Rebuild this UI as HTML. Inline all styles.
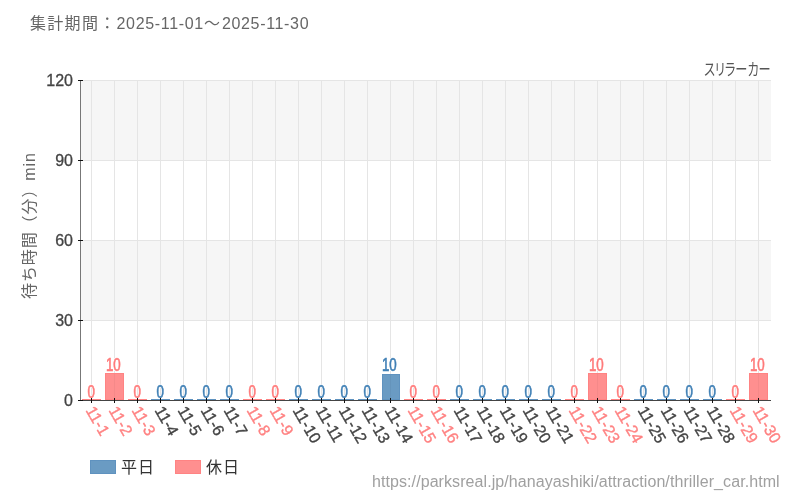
<!DOCTYPE html>
<html><head><meta charset="utf-8"><style>
html,body{margin:0;padding:0;background:#fff;width:800px;height:500px;overflow:hidden;position:relative}
.t{position:absolute;white-space:nowrap;font-family:"Liberation Sans", "Noto Sans CJK JP", sans-serif;line-height:1}
</style></head><body>
<svg width="800" height="500" viewBox="0 0 800 500" style="position:absolute;left:0;top:0">
<rect x="81" y="81" width="690" height="79" fill="#f6f6f6"/>
<rect x="81" y="241" width="690" height="79" fill="#f6f6f6"/>
<line x1="81" y1="80.5" x2="771" y2="80.5" stroke="#e5e5e5" stroke-width="1"/>
<line x1="81" y1="160.5" x2="771" y2="160.5" stroke="#e5e5e5" stroke-width="1"/>
<line x1="81" y1="240.5" x2="771" y2="240.5" stroke="#e5e5e5" stroke-width="1"/>
<line x1="81" y1="320.5" x2="771" y2="320.5" stroke="#e5e5e5" stroke-width="1"/>
<line x1="91.5" y1="81" x2="91.5" y2="400" stroke="#e5e5e5" stroke-width="1"/>
<line x1="114.5" y1="81" x2="114.5" y2="400" stroke="#e5e5e5" stroke-width="1"/>
<line x1="137.5" y1="81" x2="137.5" y2="400" stroke="#e5e5e5" stroke-width="1"/>
<line x1="160.5" y1="81" x2="160.5" y2="400" stroke="#e5e5e5" stroke-width="1"/>
<line x1="183.5" y1="81" x2="183.5" y2="400" stroke="#e5e5e5" stroke-width="1"/>
<line x1="206.5" y1="81" x2="206.5" y2="400" stroke="#e5e5e5" stroke-width="1"/>
<line x1="229.5" y1="81" x2="229.5" y2="400" stroke="#e5e5e5" stroke-width="1"/>
<line x1="252.5" y1="81" x2="252.5" y2="400" stroke="#e5e5e5" stroke-width="1"/>
<line x1="275.5" y1="81" x2="275.5" y2="400" stroke="#e5e5e5" stroke-width="1"/>
<line x1="298.5" y1="81" x2="298.5" y2="400" stroke="#e5e5e5" stroke-width="1"/>
<line x1="321.5" y1="81" x2="321.5" y2="400" stroke="#e5e5e5" stroke-width="1"/>
<line x1="344.5" y1="81" x2="344.5" y2="400" stroke="#e5e5e5" stroke-width="1"/>
<line x1="367.5" y1="81" x2="367.5" y2="400" stroke="#e5e5e5" stroke-width="1"/>
<line x1="390.5" y1="81" x2="390.5" y2="400" stroke="#e5e5e5" stroke-width="1"/>
<line x1="413.5" y1="81" x2="413.5" y2="400" stroke="#e5e5e5" stroke-width="1"/>
<line x1="436.5" y1="81" x2="436.5" y2="400" stroke="#e5e5e5" stroke-width="1"/>
<line x1="459.5" y1="81" x2="459.5" y2="400" stroke="#e5e5e5" stroke-width="1"/>
<line x1="482.5" y1="81" x2="482.5" y2="400" stroke="#e5e5e5" stroke-width="1"/>
<line x1="505.5" y1="81" x2="505.5" y2="400" stroke="#e5e5e5" stroke-width="1"/>
<line x1="528.5" y1="81" x2="528.5" y2="400" stroke="#e5e5e5" stroke-width="1"/>
<line x1="551.5" y1="81" x2="551.5" y2="400" stroke="#e5e5e5" stroke-width="1"/>
<line x1="574.5" y1="81" x2="574.5" y2="400" stroke="#e5e5e5" stroke-width="1"/>
<line x1="597.5" y1="81" x2="597.5" y2="400" stroke="#e5e5e5" stroke-width="1"/>
<line x1="620.5" y1="81" x2="620.5" y2="400" stroke="#e5e5e5" stroke-width="1"/>
<line x1="643.5" y1="81" x2="643.5" y2="400" stroke="#e5e5e5" stroke-width="1"/>
<line x1="666.5" y1="81" x2="666.5" y2="400" stroke="#e5e5e5" stroke-width="1"/>
<line x1="689.5" y1="81" x2="689.5" y2="400" stroke="#e5e5e5" stroke-width="1"/>
<line x1="712.5" y1="81" x2="712.5" y2="400" stroke="#e5e5e5" stroke-width="1"/>
<line x1="735.5" y1="81" x2="735.5" y2="400" stroke="#e5e5e5" stroke-width="1"/>
<line x1="758.5" y1="81" x2="758.5" y2="400" stroke="#e5e5e5" stroke-width="1"/>
<rect x="82" y="399" width="19" height="1" fill="#ff8383"/>
<rect x="105" y="373" width="19" height="27" fill="#ff8f8f"/>
<line x1="114.5" y1="373" x2="114.5" y2="400" stroke="#000" stroke-opacity="0.04"/>
<rect x="105.5" y="373.5" width="18" height="26" fill="none" stroke="#ff8383" stroke-width="1"/>
<rect x="128" y="399" width="19" height="1" fill="#ff8383"/>
<rect x="151" y="399" width="19" height="1" fill="#5f92bf"/>
<rect x="174" y="399" width="19" height="1" fill="#5f92bf"/>
<rect x="197" y="399" width="19" height="1" fill="#5f92bf"/>
<rect x="220" y="399" width="19" height="1" fill="#5f92bf"/>
<rect x="243" y="399" width="19" height="1" fill="#ff8383"/>
<rect x="266" y="399" width="19" height="1" fill="#ff8383"/>
<rect x="289" y="399" width="19" height="1" fill="#5f92bf"/>
<rect x="312" y="399" width="19" height="1" fill="#5f92bf"/>
<rect x="335" y="399" width="19" height="1" fill="#5f92bf"/>
<rect x="358" y="399" width="19" height="1" fill="#5f92bf"/>
<rect x="382" y="374" width="18" height="26" fill="#6a9bc3"/>
<line x1="390.5" y1="374" x2="390.5" y2="400" stroke="#000" stroke-opacity="0.04"/>
<rect x="382.5" y="374.5" width="17" height="25" fill="none" stroke="#5f92bf" stroke-width="1"/>
<rect x="404" y="399" width="19" height="1" fill="#ff8383"/>
<rect x="427" y="399" width="19" height="1" fill="#ff8383"/>
<rect x="450" y="399" width="19" height="1" fill="#5f92bf"/>
<rect x="473" y="399" width="19" height="1" fill="#5f92bf"/>
<rect x="496" y="399" width="19" height="1" fill="#5f92bf"/>
<rect x="519" y="399" width="19" height="1" fill="#5f92bf"/>
<rect x="542" y="399" width="19" height="1" fill="#5f92bf"/>
<rect x="565" y="399" width="19" height="1" fill="#ff8383"/>
<rect x="588" y="373" width="19" height="27" fill="#ff8f8f"/>
<line x1="597.5" y1="373" x2="597.5" y2="400" stroke="#000" stroke-opacity="0.04"/>
<rect x="588.5" y="373.5" width="18" height="26" fill="none" stroke="#ff8383" stroke-width="1"/>
<rect x="611" y="399" width="19" height="1" fill="#ff8383"/>
<rect x="634" y="399" width="19" height="1" fill="#5f92bf"/>
<rect x="657" y="399" width="19" height="1" fill="#5f92bf"/>
<rect x="680" y="399" width="19" height="1" fill="#5f92bf"/>
<rect x="703" y="399" width="19" height="1" fill="#5f92bf"/>
<rect x="726" y="399" width="19" height="1" fill="#ff8383"/>
<rect x="749" y="373" width="19" height="27" fill="#ff8f8f"/>
<line x1="758.5" y1="373" x2="758.5" y2="400" stroke="#000" stroke-opacity="0.04"/>
<rect x="749.5" y="373.5" width="18" height="26" fill="none" stroke="#ff8383" stroke-width="1"/>
<line x1="80.5" y1="80" x2="80.5" y2="400" stroke="#777" stroke-width="1"/>
<line x1="80" y1="400.5" x2="771" y2="400.5" stroke="#444" stroke-width="1"/>
<text x="73" y="85.8" text-anchor="end" font-family='"Liberation Sans", "Noto Sans CJK JP", sans-serif' font-size="16" fill="#444" stroke="#444" stroke-width="0.3">120</text>
<text x="73" y="165.8" text-anchor="end" font-family='"Liberation Sans", "Noto Sans CJK JP", sans-serif' font-size="16" fill="#444" stroke="#444" stroke-width="0.3">90</text>
<text x="73" y="245.8" text-anchor="end" font-family='"Liberation Sans", "Noto Sans CJK JP", sans-serif' font-size="16" fill="#444" stroke="#444" stroke-width="0.3">60</text>
<text x="73" y="325.8" text-anchor="end" font-family='"Liberation Sans", "Noto Sans CJK JP", sans-serif' font-size="16" fill="#444" stroke="#444" stroke-width="0.3">30</text>
<text x="73" y="405.8" text-anchor="end" font-family='"Liberation Sans", "Noto Sans CJK JP", sans-serif' font-size="16" fill="#444" stroke="#444" stroke-width="0.3">0</text>
<text transform="translate(91.10,398.10) scale(0.72,1)" text-anchor="middle" font-family='"Liberation Sans", "Noto Sans CJK JP", sans-serif' font-size="18.5" fill="#ff7a7a" stroke="#fff" stroke-width="2" stroke-linejoin="round">0</text>
<text transform="translate(91.10,398.10) scale(0.72,1)" text-anchor="middle" font-family='"Liberation Sans", "Noto Sans CJK JP", sans-serif' font-size="18.5" fill="#ff7a7a" stroke="#ff7a7a" stroke-width="0.65">0</text>
<text transform="translate(113.30,370.83) scale(0.72,1)" text-anchor="middle" font-family='"Liberation Sans", "Noto Sans CJK JP", sans-serif' font-size="18.5" fill="#ff7a7a" stroke="#fff" stroke-width="2" stroke-linejoin="round">10</text>
<text transform="translate(113.30,370.83) scale(0.72,1)" text-anchor="middle" font-family='"Liberation Sans", "Noto Sans CJK JP", sans-serif' font-size="18.5" fill="#ff7a7a" stroke="#ff7a7a" stroke-width="0.65">10</text>
<text transform="translate(137.10,398.10) scale(0.72,1)" text-anchor="middle" font-family='"Liberation Sans", "Noto Sans CJK JP", sans-serif' font-size="18.5" fill="#ff7a7a" stroke="#fff" stroke-width="2" stroke-linejoin="round">0</text>
<text transform="translate(137.10,398.10) scale(0.72,1)" text-anchor="middle" font-family='"Liberation Sans", "Noto Sans CJK JP", sans-serif' font-size="18.5" fill="#ff7a7a" stroke="#ff7a7a" stroke-width="0.65">0</text>
<text transform="translate(160.10,398.10) scale(0.72,1)" text-anchor="middle" font-family='"Liberation Sans", "Noto Sans CJK JP", sans-serif' font-size="18.5" fill="#3f7fb5" stroke="#fff" stroke-width="2" stroke-linejoin="round">0</text>
<text transform="translate(160.10,398.10) scale(0.72,1)" text-anchor="middle" font-family='"Liberation Sans", "Noto Sans CJK JP", sans-serif' font-size="18.5" fill="#3f7fb5" stroke="#3f7fb5" stroke-width="0.65">0</text>
<text transform="translate(183.10,398.10) scale(0.72,1)" text-anchor="middle" font-family='"Liberation Sans", "Noto Sans CJK JP", sans-serif' font-size="18.5" fill="#3f7fb5" stroke="#fff" stroke-width="2" stroke-linejoin="round">0</text>
<text transform="translate(183.10,398.10) scale(0.72,1)" text-anchor="middle" font-family='"Liberation Sans", "Noto Sans CJK JP", sans-serif' font-size="18.5" fill="#3f7fb5" stroke="#3f7fb5" stroke-width="0.65">0</text>
<text transform="translate(206.10,398.10) scale(0.72,1)" text-anchor="middle" font-family='"Liberation Sans", "Noto Sans CJK JP", sans-serif' font-size="18.5" fill="#3f7fb5" stroke="#fff" stroke-width="2" stroke-linejoin="round">0</text>
<text transform="translate(206.10,398.10) scale(0.72,1)" text-anchor="middle" font-family='"Liberation Sans", "Noto Sans CJK JP", sans-serif' font-size="18.5" fill="#3f7fb5" stroke="#3f7fb5" stroke-width="0.65">0</text>
<text transform="translate(229.10,398.10) scale(0.72,1)" text-anchor="middle" font-family='"Liberation Sans", "Noto Sans CJK JP", sans-serif' font-size="18.5" fill="#3f7fb5" stroke="#fff" stroke-width="2" stroke-linejoin="round">0</text>
<text transform="translate(229.10,398.10) scale(0.72,1)" text-anchor="middle" font-family='"Liberation Sans", "Noto Sans CJK JP", sans-serif' font-size="18.5" fill="#3f7fb5" stroke="#3f7fb5" stroke-width="0.65">0</text>
<text transform="translate(252.10,398.10) scale(0.72,1)" text-anchor="middle" font-family='"Liberation Sans", "Noto Sans CJK JP", sans-serif' font-size="18.5" fill="#ff7a7a" stroke="#fff" stroke-width="2" stroke-linejoin="round">0</text>
<text transform="translate(252.10,398.10) scale(0.72,1)" text-anchor="middle" font-family='"Liberation Sans", "Noto Sans CJK JP", sans-serif' font-size="18.5" fill="#ff7a7a" stroke="#ff7a7a" stroke-width="0.65">0</text>
<text transform="translate(275.10,398.10) scale(0.72,1)" text-anchor="middle" font-family='"Liberation Sans", "Noto Sans CJK JP", sans-serif' font-size="18.5" fill="#ff7a7a" stroke="#fff" stroke-width="2" stroke-linejoin="round">0</text>
<text transform="translate(275.10,398.10) scale(0.72,1)" text-anchor="middle" font-family='"Liberation Sans", "Noto Sans CJK JP", sans-serif' font-size="18.5" fill="#ff7a7a" stroke="#ff7a7a" stroke-width="0.65">0</text>
<text transform="translate(298.10,398.10) scale(0.72,1)" text-anchor="middle" font-family='"Liberation Sans", "Noto Sans CJK JP", sans-serif' font-size="18.5" fill="#3f7fb5" stroke="#fff" stroke-width="2" stroke-linejoin="round">0</text>
<text transform="translate(298.10,398.10) scale(0.72,1)" text-anchor="middle" font-family='"Liberation Sans", "Noto Sans CJK JP", sans-serif' font-size="18.5" fill="#3f7fb5" stroke="#3f7fb5" stroke-width="0.65">0</text>
<text transform="translate(321.10,398.10) scale(0.72,1)" text-anchor="middle" font-family='"Liberation Sans", "Noto Sans CJK JP", sans-serif' font-size="18.5" fill="#3f7fb5" stroke="#fff" stroke-width="2" stroke-linejoin="round">0</text>
<text transform="translate(321.10,398.10) scale(0.72,1)" text-anchor="middle" font-family='"Liberation Sans", "Noto Sans CJK JP", sans-serif' font-size="18.5" fill="#3f7fb5" stroke="#3f7fb5" stroke-width="0.65">0</text>
<text transform="translate(344.10,398.10) scale(0.72,1)" text-anchor="middle" font-family='"Liberation Sans", "Noto Sans CJK JP", sans-serif' font-size="18.5" fill="#3f7fb5" stroke="#fff" stroke-width="2" stroke-linejoin="round">0</text>
<text transform="translate(344.10,398.10) scale(0.72,1)" text-anchor="middle" font-family='"Liberation Sans", "Noto Sans CJK JP", sans-serif' font-size="18.5" fill="#3f7fb5" stroke="#3f7fb5" stroke-width="0.65">0</text>
<text transform="translate(367.10,398.10) scale(0.72,1)" text-anchor="middle" font-family='"Liberation Sans", "Noto Sans CJK JP", sans-serif' font-size="18.5" fill="#3f7fb5" stroke="#fff" stroke-width="2" stroke-linejoin="round">0</text>
<text transform="translate(367.10,398.10) scale(0.72,1)" text-anchor="middle" font-family='"Liberation Sans", "Noto Sans CJK JP", sans-serif' font-size="18.5" fill="#3f7fb5" stroke="#3f7fb5" stroke-width="0.65">0</text>
<text transform="translate(389.30,370.83) scale(0.72,1)" text-anchor="middle" font-family='"Liberation Sans", "Noto Sans CJK JP", sans-serif' font-size="18.5" fill="#3f7fb5" stroke="#fff" stroke-width="2" stroke-linejoin="round">10</text>
<text transform="translate(389.30,370.83) scale(0.72,1)" text-anchor="middle" font-family='"Liberation Sans", "Noto Sans CJK JP", sans-serif' font-size="18.5" fill="#3f7fb5" stroke="#3f7fb5" stroke-width="0.65">10</text>
<text transform="translate(413.10,398.10) scale(0.72,1)" text-anchor="middle" font-family='"Liberation Sans", "Noto Sans CJK JP", sans-serif' font-size="18.5" fill="#ff7a7a" stroke="#fff" stroke-width="2" stroke-linejoin="round">0</text>
<text transform="translate(413.10,398.10) scale(0.72,1)" text-anchor="middle" font-family='"Liberation Sans", "Noto Sans CJK JP", sans-serif' font-size="18.5" fill="#ff7a7a" stroke="#ff7a7a" stroke-width="0.65">0</text>
<text transform="translate(436.10,398.10) scale(0.72,1)" text-anchor="middle" font-family='"Liberation Sans", "Noto Sans CJK JP", sans-serif' font-size="18.5" fill="#ff7a7a" stroke="#fff" stroke-width="2" stroke-linejoin="round">0</text>
<text transform="translate(436.10,398.10) scale(0.72,1)" text-anchor="middle" font-family='"Liberation Sans", "Noto Sans CJK JP", sans-serif' font-size="18.5" fill="#ff7a7a" stroke="#ff7a7a" stroke-width="0.65">0</text>
<text transform="translate(459.10,398.10) scale(0.72,1)" text-anchor="middle" font-family='"Liberation Sans", "Noto Sans CJK JP", sans-serif' font-size="18.5" fill="#3f7fb5" stroke="#fff" stroke-width="2" stroke-linejoin="round">0</text>
<text transform="translate(459.10,398.10) scale(0.72,1)" text-anchor="middle" font-family='"Liberation Sans", "Noto Sans CJK JP", sans-serif' font-size="18.5" fill="#3f7fb5" stroke="#3f7fb5" stroke-width="0.65">0</text>
<text transform="translate(482.10,398.10) scale(0.72,1)" text-anchor="middle" font-family='"Liberation Sans", "Noto Sans CJK JP", sans-serif' font-size="18.5" fill="#3f7fb5" stroke="#fff" stroke-width="2" stroke-linejoin="round">0</text>
<text transform="translate(482.10,398.10) scale(0.72,1)" text-anchor="middle" font-family='"Liberation Sans", "Noto Sans CJK JP", sans-serif' font-size="18.5" fill="#3f7fb5" stroke="#3f7fb5" stroke-width="0.65">0</text>
<text transform="translate(505.10,398.10) scale(0.72,1)" text-anchor="middle" font-family='"Liberation Sans", "Noto Sans CJK JP", sans-serif' font-size="18.5" fill="#3f7fb5" stroke="#fff" stroke-width="2" stroke-linejoin="round">0</text>
<text transform="translate(505.10,398.10) scale(0.72,1)" text-anchor="middle" font-family='"Liberation Sans", "Noto Sans CJK JP", sans-serif' font-size="18.5" fill="#3f7fb5" stroke="#3f7fb5" stroke-width="0.65">0</text>
<text transform="translate(528.10,398.10) scale(0.72,1)" text-anchor="middle" font-family='"Liberation Sans", "Noto Sans CJK JP", sans-serif' font-size="18.5" fill="#3f7fb5" stroke="#fff" stroke-width="2" stroke-linejoin="round">0</text>
<text transform="translate(528.10,398.10) scale(0.72,1)" text-anchor="middle" font-family='"Liberation Sans", "Noto Sans CJK JP", sans-serif' font-size="18.5" fill="#3f7fb5" stroke="#3f7fb5" stroke-width="0.65">0</text>
<text transform="translate(551.10,398.10) scale(0.72,1)" text-anchor="middle" font-family='"Liberation Sans", "Noto Sans CJK JP", sans-serif' font-size="18.5" fill="#3f7fb5" stroke="#fff" stroke-width="2" stroke-linejoin="round">0</text>
<text transform="translate(551.10,398.10) scale(0.72,1)" text-anchor="middle" font-family='"Liberation Sans", "Noto Sans CJK JP", sans-serif' font-size="18.5" fill="#3f7fb5" stroke="#3f7fb5" stroke-width="0.65">0</text>
<text transform="translate(574.10,398.10) scale(0.72,1)" text-anchor="middle" font-family='"Liberation Sans", "Noto Sans CJK JP", sans-serif' font-size="18.5" fill="#ff7a7a" stroke="#fff" stroke-width="2" stroke-linejoin="round">0</text>
<text transform="translate(574.10,398.10) scale(0.72,1)" text-anchor="middle" font-family='"Liberation Sans", "Noto Sans CJK JP", sans-serif' font-size="18.5" fill="#ff7a7a" stroke="#ff7a7a" stroke-width="0.65">0</text>
<text transform="translate(596.30,370.83) scale(0.72,1)" text-anchor="middle" font-family='"Liberation Sans", "Noto Sans CJK JP", sans-serif' font-size="18.5" fill="#ff7a7a" stroke="#fff" stroke-width="2" stroke-linejoin="round">10</text>
<text transform="translate(596.30,370.83) scale(0.72,1)" text-anchor="middle" font-family='"Liberation Sans", "Noto Sans CJK JP", sans-serif' font-size="18.5" fill="#ff7a7a" stroke="#ff7a7a" stroke-width="0.65">10</text>
<text transform="translate(620.10,398.10) scale(0.72,1)" text-anchor="middle" font-family='"Liberation Sans", "Noto Sans CJK JP", sans-serif' font-size="18.5" fill="#ff7a7a" stroke="#fff" stroke-width="2" stroke-linejoin="round">0</text>
<text transform="translate(620.10,398.10) scale(0.72,1)" text-anchor="middle" font-family='"Liberation Sans", "Noto Sans CJK JP", sans-serif' font-size="18.5" fill="#ff7a7a" stroke="#ff7a7a" stroke-width="0.65">0</text>
<text transform="translate(643.10,398.10) scale(0.72,1)" text-anchor="middle" font-family='"Liberation Sans", "Noto Sans CJK JP", sans-serif' font-size="18.5" fill="#3f7fb5" stroke="#fff" stroke-width="2" stroke-linejoin="round">0</text>
<text transform="translate(643.10,398.10) scale(0.72,1)" text-anchor="middle" font-family='"Liberation Sans", "Noto Sans CJK JP", sans-serif' font-size="18.5" fill="#3f7fb5" stroke="#3f7fb5" stroke-width="0.65">0</text>
<text transform="translate(666.10,398.10) scale(0.72,1)" text-anchor="middle" font-family='"Liberation Sans", "Noto Sans CJK JP", sans-serif' font-size="18.5" fill="#3f7fb5" stroke="#fff" stroke-width="2" stroke-linejoin="round">0</text>
<text transform="translate(666.10,398.10) scale(0.72,1)" text-anchor="middle" font-family='"Liberation Sans", "Noto Sans CJK JP", sans-serif' font-size="18.5" fill="#3f7fb5" stroke="#3f7fb5" stroke-width="0.65">0</text>
<text transform="translate(689.10,398.10) scale(0.72,1)" text-anchor="middle" font-family='"Liberation Sans", "Noto Sans CJK JP", sans-serif' font-size="18.5" fill="#3f7fb5" stroke="#fff" stroke-width="2" stroke-linejoin="round">0</text>
<text transform="translate(689.10,398.10) scale(0.72,1)" text-anchor="middle" font-family='"Liberation Sans", "Noto Sans CJK JP", sans-serif' font-size="18.5" fill="#3f7fb5" stroke="#3f7fb5" stroke-width="0.65">0</text>
<text transform="translate(712.10,398.10) scale(0.72,1)" text-anchor="middle" font-family='"Liberation Sans", "Noto Sans CJK JP", sans-serif' font-size="18.5" fill="#3f7fb5" stroke="#fff" stroke-width="2" stroke-linejoin="round">0</text>
<text transform="translate(712.10,398.10) scale(0.72,1)" text-anchor="middle" font-family='"Liberation Sans", "Noto Sans CJK JP", sans-serif' font-size="18.5" fill="#3f7fb5" stroke="#3f7fb5" stroke-width="0.65">0</text>
<text transform="translate(735.10,398.10) scale(0.72,1)" text-anchor="middle" font-family='"Liberation Sans", "Noto Sans CJK JP", sans-serif' font-size="18.5" fill="#ff7a7a" stroke="#fff" stroke-width="2" stroke-linejoin="round">0</text>
<text transform="translate(735.10,398.10) scale(0.72,1)" text-anchor="middle" font-family='"Liberation Sans", "Noto Sans CJK JP", sans-serif' font-size="18.5" fill="#ff7a7a" stroke="#ff7a7a" stroke-width="0.65">0</text>
<text transform="translate(757.30,370.83) scale(0.72,1)" text-anchor="middle" font-family='"Liberation Sans", "Noto Sans CJK JP", sans-serif' font-size="18.5" fill="#ff7a7a" stroke="#fff" stroke-width="2" stroke-linejoin="round">10</text>
<text transform="translate(757.30,370.83) scale(0.72,1)" text-anchor="middle" font-family='"Liberation Sans", "Noto Sans CJK JP", sans-serif' font-size="18.5" fill="#ff7a7a" stroke="#ff7a7a" stroke-width="0.65">10</text>
<text transform="translate(90.00,407.4) rotate(60)" dominant-baseline="central" font-family='"Liberation Sans", "Noto Sans CJK JP", sans-serif' font-size="16" fill="#ff8282" stroke="#ff8282" stroke-width="0.35">11-1</text>
<text transform="translate(113.00,407.4) rotate(60)" dominant-baseline="central" font-family='"Liberation Sans", "Noto Sans CJK JP", sans-serif' font-size="16" fill="#ff8282" stroke="#ff8282" stroke-width="0.35">11-2</text>
<text transform="translate(136.00,407.4) rotate(60)" dominant-baseline="central" font-family='"Liberation Sans", "Noto Sans CJK JP", sans-serif' font-size="16" fill="#ff8282" stroke="#ff8282" stroke-width="0.35">11-3</text>
<text transform="translate(159.00,407.4) rotate(60)" dominant-baseline="central" font-family='"Liberation Sans", "Noto Sans CJK JP", sans-serif' font-size="16" fill="#444" stroke="#444" stroke-width="0.35">11-4</text>
<text transform="translate(182.00,407.4) rotate(60)" dominant-baseline="central" font-family='"Liberation Sans", "Noto Sans CJK JP", sans-serif' font-size="16" fill="#444" stroke="#444" stroke-width="0.35">11-5</text>
<text transform="translate(205.00,407.4) rotate(60)" dominant-baseline="central" font-family='"Liberation Sans", "Noto Sans CJK JP", sans-serif' font-size="16" fill="#444" stroke="#444" stroke-width="0.35">11-6</text>
<text transform="translate(228.00,407.4) rotate(60)" dominant-baseline="central" font-family='"Liberation Sans", "Noto Sans CJK JP", sans-serif' font-size="16" fill="#444" stroke="#444" stroke-width="0.35">11-7</text>
<text transform="translate(251.00,407.4) rotate(60)" dominant-baseline="central" font-family='"Liberation Sans", "Noto Sans CJK JP", sans-serif' font-size="16" fill="#ff8282" stroke="#ff8282" stroke-width="0.35">11-8</text>
<text transform="translate(274.00,407.4) rotate(60)" dominant-baseline="central" font-family='"Liberation Sans", "Noto Sans CJK JP", sans-serif' font-size="16" fill="#ff8282" stroke="#ff8282" stroke-width="0.35">11-9</text>
<text transform="translate(297.00,407.4) rotate(60)" dominant-baseline="central" font-family='"Liberation Sans", "Noto Sans CJK JP", sans-serif' font-size="16" fill="#444" stroke="#444" stroke-width="0.35">11-10</text>
<text transform="translate(320.00,407.4) rotate(60)" dominant-baseline="central" font-family='"Liberation Sans", "Noto Sans CJK JP", sans-serif' font-size="16" fill="#444" stroke="#444" stroke-width="0.35">11-11</text>
<text transform="translate(343.00,407.4) rotate(60)" dominant-baseline="central" font-family='"Liberation Sans", "Noto Sans CJK JP", sans-serif' font-size="16" fill="#444" stroke="#444" stroke-width="0.35">11-12</text>
<text transform="translate(366.00,407.4) rotate(60)" dominant-baseline="central" font-family='"Liberation Sans", "Noto Sans CJK JP", sans-serif' font-size="16" fill="#444" stroke="#444" stroke-width="0.35">11-13</text>
<text transform="translate(389.00,407.4) rotate(60)" dominant-baseline="central" font-family='"Liberation Sans", "Noto Sans CJK JP", sans-serif' font-size="16" fill="#444" stroke="#444" stroke-width="0.35">11-14</text>
<text transform="translate(412.00,407.4) rotate(60)" dominant-baseline="central" font-family='"Liberation Sans", "Noto Sans CJK JP", sans-serif' font-size="16" fill="#ff8282" stroke="#ff8282" stroke-width="0.35">11-15</text>
<text transform="translate(435.00,407.4) rotate(60)" dominant-baseline="central" font-family='"Liberation Sans", "Noto Sans CJK JP", sans-serif' font-size="16" fill="#ff8282" stroke="#ff8282" stroke-width="0.35">11-16</text>
<text transform="translate(458.00,407.4) rotate(60)" dominant-baseline="central" font-family='"Liberation Sans", "Noto Sans CJK JP", sans-serif' font-size="16" fill="#444" stroke="#444" stroke-width="0.35">11-17</text>
<text transform="translate(481.00,407.4) rotate(60)" dominant-baseline="central" font-family='"Liberation Sans", "Noto Sans CJK JP", sans-serif' font-size="16" fill="#444" stroke="#444" stroke-width="0.35">11-18</text>
<text transform="translate(504.00,407.4) rotate(60)" dominant-baseline="central" font-family='"Liberation Sans", "Noto Sans CJK JP", sans-serif' font-size="16" fill="#444" stroke="#444" stroke-width="0.35">11-19</text>
<text transform="translate(527.00,407.4) rotate(60)" dominant-baseline="central" font-family='"Liberation Sans", "Noto Sans CJK JP", sans-serif' font-size="16" fill="#444" stroke="#444" stroke-width="0.35">11-20</text>
<text transform="translate(550.00,407.4) rotate(60)" dominant-baseline="central" font-family='"Liberation Sans", "Noto Sans CJK JP", sans-serif' font-size="16" fill="#444" stroke="#444" stroke-width="0.35">11-21</text>
<text transform="translate(573.00,407.4) rotate(60)" dominant-baseline="central" font-family='"Liberation Sans", "Noto Sans CJK JP", sans-serif' font-size="16" fill="#ff8282" stroke="#ff8282" stroke-width="0.35">11-22</text>
<text transform="translate(596.00,407.4) rotate(60)" dominant-baseline="central" font-family='"Liberation Sans", "Noto Sans CJK JP", sans-serif' font-size="16" fill="#ff8282" stroke="#ff8282" stroke-width="0.35">11-23</text>
<text transform="translate(619.00,407.4) rotate(60)" dominant-baseline="central" font-family='"Liberation Sans", "Noto Sans CJK JP", sans-serif' font-size="16" fill="#ff8282" stroke="#ff8282" stroke-width="0.35">11-24</text>
<text transform="translate(642.00,407.4) rotate(60)" dominant-baseline="central" font-family='"Liberation Sans", "Noto Sans CJK JP", sans-serif' font-size="16" fill="#444" stroke="#444" stroke-width="0.35">11-25</text>
<text transform="translate(665.00,407.4) rotate(60)" dominant-baseline="central" font-family='"Liberation Sans", "Noto Sans CJK JP", sans-serif' font-size="16" fill="#444" stroke="#444" stroke-width="0.35">11-26</text>
<text transform="translate(688.00,407.4) rotate(60)" dominant-baseline="central" font-family='"Liberation Sans", "Noto Sans CJK JP", sans-serif' font-size="16" fill="#444" stroke="#444" stroke-width="0.35">11-27</text>
<text transform="translate(711.00,407.4) rotate(60)" dominant-baseline="central" font-family='"Liberation Sans", "Noto Sans CJK JP", sans-serif' font-size="16" fill="#444" stroke="#444" stroke-width="0.35">11-28</text>
<text transform="translate(734.00,407.4) rotate(60)" dominant-baseline="central" font-family='"Liberation Sans", "Noto Sans CJK JP", sans-serif' font-size="16" fill="#ff8282" stroke="#ff8282" stroke-width="0.35">11-29</text>
<text transform="translate(757.00,407.4) rotate(60)" dominant-baseline="central" font-family='"Liberation Sans", "Noto Sans CJK JP", sans-serif' font-size="16" fill="#ff8282" stroke="#ff8282" stroke-width="0.35">11-30</text>
<line x1="78" y1="80.5" x2="83" y2="80.5" stroke="#111" stroke-width="1"/>
<line x1="78" y1="160.5" x2="83" y2="160.5" stroke="#111" stroke-width="1"/>
<line x1="78" y1="240.5" x2="83" y2="240.5" stroke="#111" stroke-width="1"/>
<line x1="78" y1="320.5" x2="83" y2="320.5" stroke="#111" stroke-width="1"/>
<line x1="78" y1="400.5" x2="83" y2="400.5" stroke="#111" stroke-width="1"/>
<line x1="91.5" y1="398" x2="91.5" y2="403" stroke="#111" stroke-width="1"/>
<line x1="114.5" y1="398" x2="114.5" y2="403" stroke="#111" stroke-width="1"/>
<line x1="137.5" y1="398" x2="137.5" y2="403" stroke="#111" stroke-width="1"/>
<line x1="160.5" y1="398" x2="160.5" y2="403" stroke="#111" stroke-width="1"/>
<line x1="183.5" y1="398" x2="183.5" y2="403" stroke="#111" stroke-width="1"/>
<line x1="206.5" y1="398" x2="206.5" y2="403" stroke="#111" stroke-width="1"/>
<line x1="229.5" y1="398" x2="229.5" y2="403" stroke="#111" stroke-width="1"/>
<line x1="252.5" y1="398" x2="252.5" y2="403" stroke="#111" stroke-width="1"/>
<line x1="275.5" y1="398" x2="275.5" y2="403" stroke="#111" stroke-width="1"/>
<line x1="298.5" y1="398" x2="298.5" y2="403" stroke="#111" stroke-width="1"/>
<line x1="321.5" y1="398" x2="321.5" y2="403" stroke="#111" stroke-width="1"/>
<line x1="344.5" y1="398" x2="344.5" y2="403" stroke="#111" stroke-width="1"/>
<line x1="367.5" y1="398" x2="367.5" y2="403" stroke="#111" stroke-width="1"/>
<line x1="390.5" y1="398" x2="390.5" y2="403" stroke="#111" stroke-width="1"/>
<line x1="413.5" y1="398" x2="413.5" y2="403" stroke="#111" stroke-width="1"/>
<line x1="436.5" y1="398" x2="436.5" y2="403" stroke="#111" stroke-width="1"/>
<line x1="459.5" y1="398" x2="459.5" y2="403" stroke="#111" stroke-width="1"/>
<line x1="482.5" y1="398" x2="482.5" y2="403" stroke="#111" stroke-width="1"/>
<line x1="505.5" y1="398" x2="505.5" y2="403" stroke="#111" stroke-width="1"/>
<line x1="528.5" y1="398" x2="528.5" y2="403" stroke="#111" stroke-width="1"/>
<line x1="551.5" y1="398" x2="551.5" y2="403" stroke="#111" stroke-width="1"/>
<line x1="574.5" y1="398" x2="574.5" y2="403" stroke="#111" stroke-width="1"/>
<line x1="597.5" y1="398" x2="597.5" y2="403" stroke="#111" stroke-width="1"/>
<line x1="620.5" y1="398" x2="620.5" y2="403" stroke="#111" stroke-width="1"/>
<line x1="643.5" y1="398" x2="643.5" y2="403" stroke="#111" stroke-width="1"/>
<line x1="666.5" y1="398" x2="666.5" y2="403" stroke="#111" stroke-width="1"/>
<line x1="689.5" y1="398" x2="689.5" y2="403" stroke="#111" stroke-width="1"/>
<line x1="712.5" y1="398" x2="712.5" y2="403" stroke="#111" stroke-width="1"/>
<line x1="735.5" y1="398" x2="735.5" y2="403" stroke="#111" stroke-width="1"/>
<line x1="758.5" y1="398" x2="758.5" y2="403" stroke="#111" stroke-width="1"/>
</svg>
<div class="t" id="title" style="left:30px;top:16px;font-size:16px;letter-spacing:0.67px;color:#666"><span style="letter-spacing:1.3px">集計期間：</span>2025-11-01<span style="letter-spacing:2px">～</span>2025-11-30</div>
<div class="t" id="sr" style="right:29px;top:62px;font-size:16px;color:#555;font-feature-settings:'palt';transform:scaleX(0.76);transform-origin:100% 0">スリラーカー</div>
<div class="t" id="yt" style="left:21.5px;top:299px;font-size:16px;letter-spacing:0.9px;color:#666;transform:rotate(-90deg);transform-origin:0 0">待ち時間（分）min</div>
<div style="position:absolute;left:90px;top:460px;width:24px;height:12px;background:#6a9bc3;border:1px solid #5f92bf"></div>
<div class="t" id="lg1" style="left:121px;top:460px;font-size:16px;letter-spacing:1px;color:#333">平日</div>
<div style="position:absolute;left:175px;top:460px;width:24px;height:12px;background:#ff8f8f;border:1px solid #ff8383"></div>
<div class="t" id="lg2" style="left:206px;top:460px;font-size:16px;letter-spacing:1px;color:#333">休日</div>
<div class="t" id="url" style="left:372px;top:474.3px;font-size:16px;letter-spacing:0.08px;color:#a0a0a0">https://parksreal.jp/hanayashiki/attraction/thriller_car.html</div>
</body></html>
